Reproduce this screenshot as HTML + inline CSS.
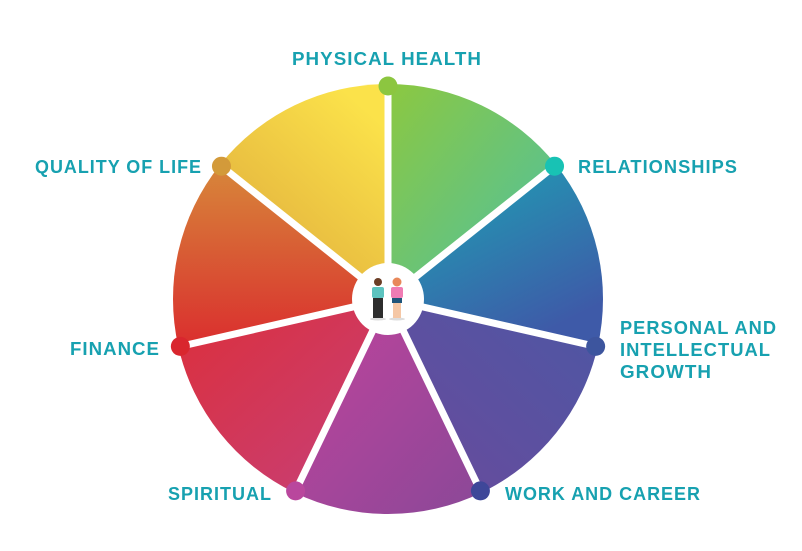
<!DOCTYPE html>
<html><head><meta charset="utf-8"><style>
html,body{margin:0;padding:0;background:#fff;}
svg{display:block}
text{font-family:"Liberation Sans",sans-serif;font-weight:bold;fill:#17a1b0;font-size:18px;letter-spacing:1px}
</style></head><body>
<svg width="802" height="551" viewBox="0 0 802 551">
<defs>
<linearGradient id="g0" x1="0" y1="0" x2="1" y2="1"><stop offset="0" stop-color="#8cc840"/><stop offset="1" stop-color="#4cc0a6"/></linearGradient>
<linearGradient id="g1" x1="0" y1="0" x2="0.6" y2="1"><stop offset="0" stop-color="#1aa9b5"/><stop offset="1" stop-color="#3e5aa8"/></linearGradient>
<linearGradient id="g2" x1="1" y1="0" x2="0" y2="1"><stop offset="0" stop-color="#4d57a4"/><stop offset="1" stop-color="#6a4a9c"/></linearGradient>
<linearGradient id="g3" x1="0" y1="0" x2="1" y2="1"><stop offset="0" stop-color="#c2439c"/><stop offset="1" stop-color="#8a4898"/></linearGradient>
<linearGradient id="g4" x1="0" y1="0" x2="1" y2="1"><stop offset="0" stop-color="#dc2f3a"/><stop offset="1" stop-color="#c6407a"/></linearGradient>
<linearGradient id="g5" x1="0" y1="0" x2="0" y2="1"><stop offset="0" stop-color="#d7873a"/><stop offset="1" stop-color="#da2e2e"/></linearGradient>
<linearGradient id="g6" x1="0.7" y1="0" x2="0" y2="1"><stop offset="0" stop-color="#fbe24a"/><stop offset="1" stop-color="#dca43a"/></linearGradient>
</defs>
<g id="sectors"></g>
<script>
var cx=388,cy=299,r=215,g=document.getElementById('sectors'),ns='http://www.w3.org/2000/svg';
function pt(a,R){a=a*Math.PI/180;return [cx+R*Math.cos(a),cy+R*Math.sin(a)];}
for(var i=0;i<7;i++){var a0=-90+i*360/7,a1=a0+360/7,p0=pt(a0,r),p1=pt(a1,r);
var p=document.createElementNS(ns,'path');p.setAttribute('d','M'+cx+' '+cy+'L'+p0+'A'+r+' '+r+' 0 0 1 '+p1+'Z');p.setAttribute('fill','url(#g'+i+')');g.appendChild(p);}
var cols=['#8cc640','#18c2b4','#3d559e','#3e4799','#b9479d','#d9262e','#d39a3a'];
for(var i=0;i<7;i++){var a=-90+i*360/7,d=pt(a,213);
var l=document.createElementNS(ns,'line');l.setAttribute('x1',cx);l.setAttribute('y1',cy);l.setAttribute('x2',d[0]);l.setAttribute('y2',d[1]);l.setAttribute('stroke','#fff');l.setAttribute('stroke-width','7');g.appendChild(l);}
for(var i=0;i<7;i++){var a=-90+i*360/7,d=pt(a,213);
var c=document.createElementNS(ns,'circle');c.setAttribute('cx',d[0]);c.setAttribute('cy',d[1]);c.setAttribute('r','9.5');c.setAttribute('fill',cols[i]);g.appendChild(c);}
</script>
<circle cx="388" cy="299" r="36" fill="#fff"/>
<ellipse cx="378" cy="319" rx="8" ry="1.5" fill="#ddd"/>
<circle cx="378" cy="282" r="4" fill="#6b3e26"/>
<rect x="372" y="287" width="12" height="11" rx="2" fill="#5cc3bf"/>
<rect x="373" y="298" width="10" height="20" fill="#2d2d2d"/>
<ellipse cx="397" cy="319" rx="8" ry="1.5" fill="#ddd"/>
<circle cx="397" cy="282" r="4.5" fill="#e8885a"/>
<rect x="391" y="287" width="12" height="11" rx="2" fill="#f07cb4"/>
<rect x="392" y="298" width="10" height="5" fill="#20557a"/>
<rect x="393" y="303" width="8" height="15" fill="#f5c7a5"/>
<text x="292" y="65" textLength="190" lengthAdjust="spacingAndGlyphs">PHYSICAL HEALTH</text>
<text x="578" y="173" textLength="160" lengthAdjust="spacingAndGlyphs">RELATIONSHIPS</text>
<text x="620" y="334" textLength="157" lengthAdjust="spacingAndGlyphs">PERSONAL AND</text>
<text x="620" y="356" textLength="151" lengthAdjust="spacingAndGlyphs">INTELLECTUAL</text>
<text x="620" y="378" textLength="92" lengthAdjust="spacingAndGlyphs">GROWTH</text>
<text x="505" y="500" textLength="196" lengthAdjust="spacingAndGlyphs">WORK AND CAREER</text>
<text x="168" y="500" textLength="104" lengthAdjust="spacingAndGlyphs">SPIRITUAL</text>
<text x="70" y="355" textLength="90" lengthAdjust="spacingAndGlyphs">FINANCE</text>
<text x="35" y="173" textLength="167" lengthAdjust="spacingAndGlyphs">QUALITY OF LIFE</text>
</svg>
</body></html>
